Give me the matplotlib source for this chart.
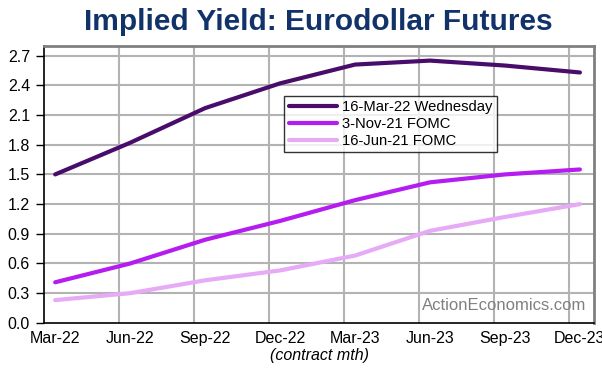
import matplotlib
matplotlib.use("Agg")
import matplotlib.pyplot as plt
import numpy as np

# contract months and implied yields (%)
contracts = ["Mar-22", "Jun-22", "Sep-22", "Dec-22", "Mar-23", "Jun-23", "Sep-23", "Dec-23"]
mar16_22 = [1.50, 1.82, 2.17, 2.42, 2.61, 2.65, 2.60, 2.53]
nov03_21 = [0.41, 0.60, 0.84, 1.03, 1.24, 1.42, 1.50, 1.55]
jun16_21 = [0.23, 0.30, 0.43, 0.53, 0.68, 0.93, 1.07, 1.20]
y_ticks = [0.0, 0.3, 0.6, 0.9, 1.2, 1.5, 1.8, 2.1, 2.4, 2.7]

plt.rcParams['font.family'] = ['Liberation Sans', 'DejaVu Sans']

fig = plt.figure(figsize=(6.02, 3.69), dpi=100)
ax = fig.add_axes([0.073, 0.125, 0.914, 0.751])

x = np.arange(len(contracts))
ax.plot(x, mar16_22, color='#4a0c6b', lw=3, label='16-Mar-22 Wednesday', solid_capstyle='round', zorder=3)
ax.plot(x, nov03_21, color='#b41cf0', lw=3, label='3-Nov-21 FOMC', solid_capstyle='round', zorder=3)
ax.plot(x, jun16_21, color='#e6aaf7', lw=3, label='16-Jun-21 FOMC', solid_capstyle='round', zorder=3)

ax.set_xlim(-0.15, 7.19)
ax.set_ylim(0, 2.8)
ax.set_yticks(y_ticks)
ax.set_yticklabels([f"{v:.1f}" for v in y_ticks], fontsize=11.5)
ax.set_xticks(x)
ax.set_xticklabels(contracts, fontsize=11.5)
ax.tick_params(axis='x', length=0, pad=6)
ax.tick_params(axis='y', length=6, direction='out', width=1, pad=4)

# gridlines (vertical ones sit between contracts)
for yv in y_ticks[1:]:
    ax.axhline(yv, color='#b3b3b3', lw=1.5, zorder=1)
for xv in np.arange(len(contracts) - 1) + 0.85:
    ax.axvline(xv, color='#b3b3b3', lw=1.5, zorder=1)

for side in ['left', 'bottom']:
    ax.spines[side].set_color('black')
    ax.spines[side].set_linewidth(1.2)
for side in ['top', 'right']:
    ax.spines[side].set_color('#808080')
    ax.spines[side].set_linewidth(2)

ax.set_xlabel('(contract mth)', fontsize=11.5, style='italic', labelpad=1)

leg = ax.legend(loc='upper left', bbox_to_anchor=(0.437, 0.82), fontsize=10.6,
                frameon=True, fancybox=False, edgecolor='black', borderpad=0.3,
                handlelength=3.3, labelspacing=0.2, handletextpad=0.3, borderaxespad=0)
leg.get_frame().set_linewidth(1)

ax.text(0.985, 0.035, 'ActionEconomics.com', transform=ax.transAxes, ha='right',
        va='bottom', fontsize=12, color='#808080')

fig.text(0.528, 0.94, 'Implied Yield: Eurodollar Futures', ha='center', va='center',
         fontsize=21.5, fontweight='bold', color='#12336a')

fig.savefig('out.png', dpi=100)
